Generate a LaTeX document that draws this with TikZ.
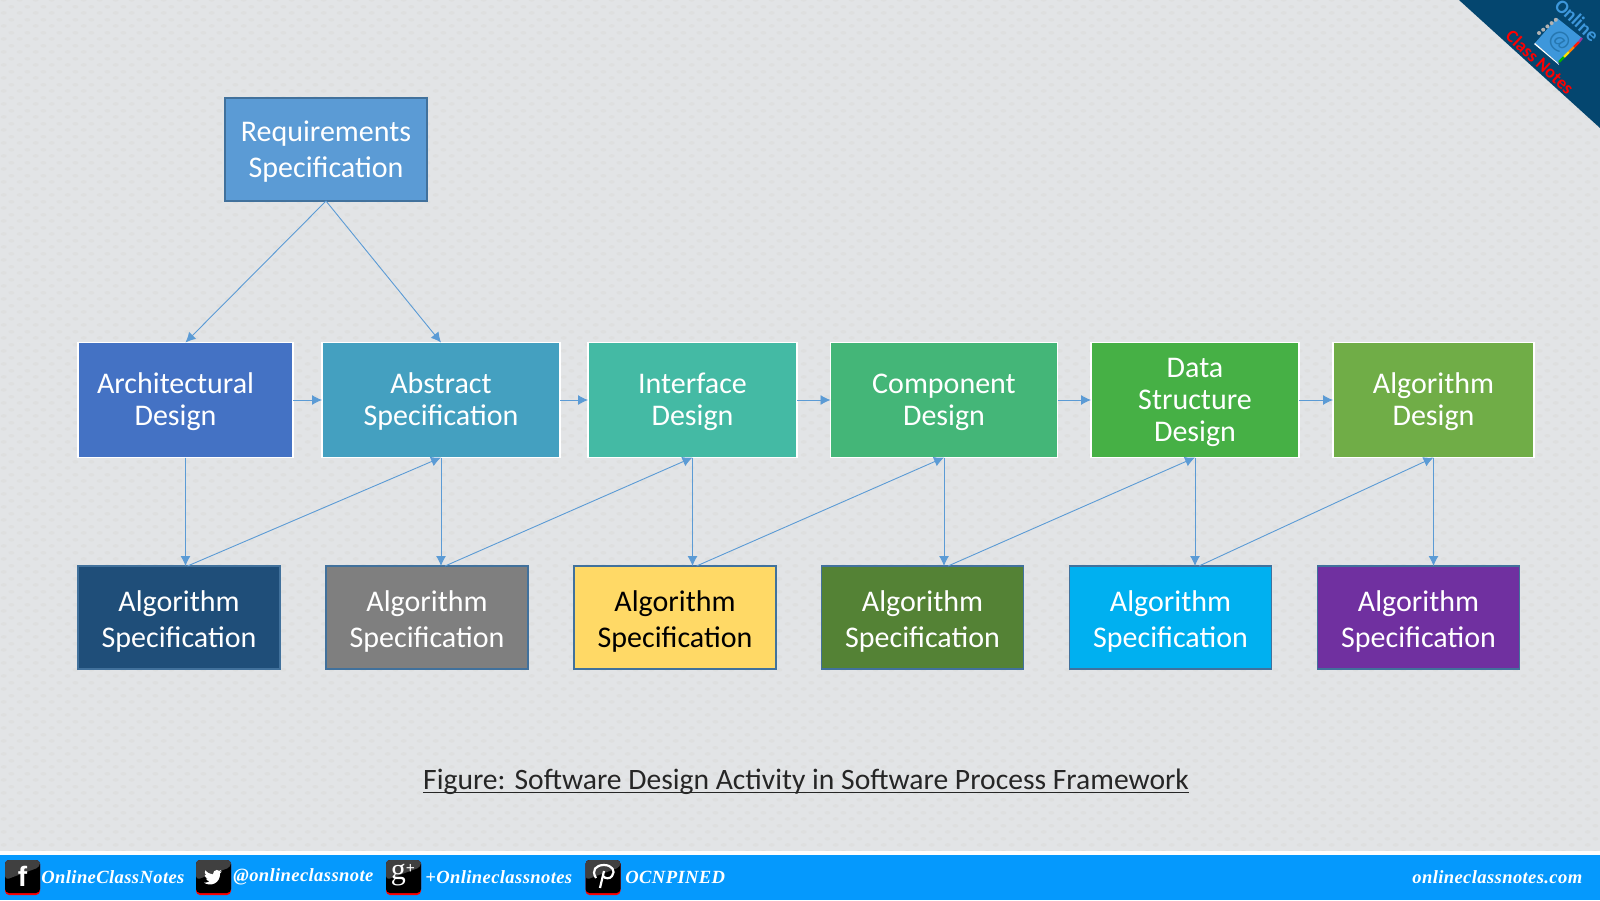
\documentclass[tikz,border=0pt]{standalone}
\usepackage{fontspec}
\usetikzlibrary{arrows.meta,patterns}
\setmainfont{Carlito}
\newfontfamily\footfont[LetterSpace=2]{Liberation Serif}
\newfontfamily\iconfont{Liberation Sans}
\newfontfamily\iconserif{Liberation Serif}
\newcommand{\capgap}[1]{\rule{0pt}{#1pt}}
\definecolor{pagebg}{HTML}{E2E4E6}
\definecolor{pagedot}{HTML}{DEDFDF}
\definecolor{footblue}{HTML}{0599FD}
\definecolor{cornerblue}{HTML}{04466F}
\definecolor{linkblue}{HTML}{5B9BD5}
\definecolor{edgeblue}{HTML}{41719C}
\definecolor{bookblue}{HTML}{3D97DB}
\pgfdeclarepatternformonly{pagedots}{\pgfqpoint{0pt}{0pt}}{\pgfqpoint{7.85pt}{6.3pt}}{\pgfqpoint{7.85pt}{6.3pt}}{
  \pgfpathellipse{\pgfqpoint{1.9pt}{1.6pt}}{\pgfqpoint{1.5pt}{0pt}}{\pgfqpoint{0pt}{.9pt}}
  \pgfpathellipse{\pgfqpoint{5.8pt}{4.75pt}}{\pgfqpoint{1.5pt}{0pt}}{\pgfqpoint{0pt}{.9pt}}
  \pgfusepath{fill}
}
\tikzset{
  flowbox/.style={draw,rectangle,outer sep=0pt,inner sep=0pt,align=center,text=white},
  reqbox/.style={flowbox,draw=edgeblue,line width=.8pt,fill=linkblue,minimum width=101pt,minimum height=51.5pt,
    font=\fontsize{15}{18}\selectfont},
  designbox/.style={flowbox,draw=white,line width=.9pt,minimum height=57.5pt,
    font=\fontsize{15}{16.1}\selectfont},
  specbox/.style={flowbox,draw=edgeblue,line width=.8pt,minimum width=101pt,minimum height=51.5pt,
    font=\fontsize{15}{18}\selectfont},
  link/.style={draw=linkblue,line width=.45pt,-{Latex[length=5pt,width=5pt]}},
  foottext/.style={anchor=west,text=white,inner sep=0pt,font=\footfont\fontsize{9.3}{10}\selectfont\bfseries\itshape},
  socialicon/.pic={
    \fill[red,rounded corners=2pt] (0,0) rectangle (35,35);
    \fill[black,rounded corners=2pt] (0,0) rectangle (35,33);
    \fill[black!75,rounded corners=2pt] (0,0) -- (35,0) -- (35,7) -- (0,20) -- cycle;
  }
}
\begin{document}
\begin{tikzpicture}[x=0.5pt,y=-0.5pt]
\useasboundingbox (0,0) rectangle (1600,900);
\fill[pagebg] (0,0) rectangle (1600,900);
\fill[pattern=pagedots,pattern color=pagedot] (0,0) rectangle (1600,900);

% corner
\fill[cornerblue] (1459,0) -- (1600,128) -- (1600,0) -- cycle;
\fill[bookblue] (1557,18) -- (1582,38) -- (1558,63) -- (1535,43) -- cycle;
\fill[white] (1535,43) -- (1558,63) -- (1559,65) -- (1534,44) -- cycle;
\draw[line width=1.1pt,green!70!black] (1559,62) -- (1564,57);
\draw[line width=1.1pt,yellow!85!orange] (1564,57) -- (1569,52);
\draw[line width=1.1pt,orange] (1569,52) -- (1574,47);
\draw[line width=1.1pt,red!80!orange] (1574,47) -- (1579,42);
\draw[line width=1.1pt,violet!80] (1579,42) -- (1582,38);
\foreach \d in {0,...,4} {
  \fill[gray!60] ({1539+4.2*\d},{33-3.3*\d}) circle (2);
}
\node[rotate=-43,text=bookblue!60!cornerblue,inner sep=0pt,font=\fontsize{13}{14}\selectfont] (atsign) at (1560,41) {@};
\node[rotate=-43,text=bookblue,inner sep=0pt,font=\fontsize{9.5}{12}\selectfont\bfseries] (online) at (1577,20) {Online};
\node[rotate=-43,text=red,inner sep=0pt,font=\fontsize{9}{12}\selectfont\bfseries] (classnotes) at (1540,62) {Class Notes};

% boxes
\node[reqbox] (req) at (326,149.5) {\capgap{12.5}Requirements\\Specification};

\node[designbox,fill={rgb,255:red,68;green,114;blue,196},minimum width=107.5pt] (arch) at (185.5,400) {\capgap{12}Architectural\hspace*{10pt}\\Design\hspace*{10pt}};
\node[designbox,fill={rgb,255:red,68;green,160;blue,192},minimum width=119pt] (abstract) at (441,400) {\capgap{12}Abstract\\Specification};
\node[designbox,fill={rgb,255:red,68;green,186;blue,164},minimum width=104.5pt] (iface) at (692.5,400) {\capgap{12}Interface\\Design};
\node[designbox,fill={rgb,255:red,68;green,182;blue,120},minimum width=113.5pt] (comp) at (944,400) {\capgap{12}Component\\Design};
\node[designbox,fill={rgb,255:red,70;green,176;blue,69},minimum width=104pt] (data) at (1195,400) {\capgap{12}Data\\Structure\\Design};
\node[designbox,fill={rgb,255:red,112;green,173;blue,71},minimum width=100.5pt] (algo) at (1433.5,400) {\capgap{12}Algorithm\\Design};

\node[specbox,fill={rgb,255:red,31;green,78;blue,121}] (spec1) at (179,617.5) {\capgap{14.5}Algorithm\\Specification};
\node[specbox,fill={rgb,255:red,127;green,127;blue,127}] (spec2) at (427,617.5) {\capgap{14.5}Algorithm\\Specification};
\node[specbox,fill={rgb,255:red,255;green,217;blue,102},text=black] (spec3) at (675,617.5) {\capgap{14.5}Algorithm\\Specification};
\node[specbox,fill={rgb,255:red,84;green,130;blue,53}] (spec4) at (922.5,617.5) {\capgap{14.5}Algorithm\\Specification};
\node[specbox,fill={rgb,255:red,0;green,176;blue,240}] (spec5) at (1170.5,617.5) {\capgap{14.5}Algorithm\\Specification};
\node[specbox,fill={rgb,255:red,112;green,48;blue,160}] (spec6) at (1418.5,617.5) {\capgap{14.5}Algorithm\\Specification};

% connectors
\draw[link] (req.south) -- (arch.north);
\draw[link] (req.south) -- (abstract.north);
\draw[link] (arch) -- (abstract);
\draw[link] (abstract) -- (iface);
\draw[link] (iface) -- (comp);
\draw[link] (comp) -- (data);
\draw[link] (data) -- (algo);

\draw[link] (arch.south) -- (arch.south |- spec1.north);
\draw[link] (abstract.south) -- (abstract.south |- spec2.north);
\draw[link] (iface.south) -- (iface.south |- spec3.north);
\draw[link] (comp.south) -- (comp.south |- spec4.north);
\draw[link] (data.south) -- (data.south |- spec5.north);
\draw[link] (algo.south) -- (algo.south |- spec6.north);

\draw[link] ([xshift=1pt]arch.south |- spec1.north) -- (abstract.south);
\draw[link] ([xshift=2pt]abstract.south |- spec2.north) -- (iface.south);
\draw[link] ([xshift=2pt]iface.south |- spec3.north) -- (comp.south);
\draw[link] ([xshift=2pt]comp.south |- spec4.north) -- (data.south);
\draw[link] ([xshift=2pt]data.south |- spec5.north) -- (algo.south);

% caption
\node[text=black!85,inner sep=0pt,font=\fontsize{14.8}{16}\selectfont] (caption) at (806,782) {Figure: Software Design Activity in Software Process Framework};
\draw[black!85,line width=.4pt] ([yshift=-1.5pt]caption.base west) -- ([yshift=-1.5pt]caption.base east);

% footer
\fill[white!92!pagebg] (0,851) rectangle (1600,855);
\fill[footblue] (0,855) rectangle (1600,900);
\pic at (5,860) {socialicon};
\pic at (196,860) {socialicon};
\pic at (386,860) {socialicon};
\pic at (585.5,860) {socialicon};
\node[text=white,inner sep=0pt,font=\iconfont\fontsize{14}{14}\selectfont\bfseries] (ficon) at (22.5,876.5) {f};
\begin{scope}[shift={(204,868)},scale=.75]
\fill[white] (24,4.6) -- (21.1,5.3) -- (23.3,2.6) -- (20.2,3.8)
  .. controls (19,2.2) and (15,2) .. (13.5,4.2) .. controls (11.8,5.5) and (11.6,7) .. (11.8,8.5)
  .. controls (7.7,8.1) and (4,6.1) .. (1.6,3.2) .. controls (.5,5) and (1,8.5) .. (3.2,9.7) -- (0.9,9.1)
  .. controls (1,11.5) and (2.5,13.4) .. (4.9,14) -- (2.7,14.1) .. controls (3.3,16) and (5,17.4) .. (7.3,17.5)
  .. controls (5.4,19.1) and (2.8,19.8) .. (0,19.5) .. controls (8,25) and (21.5,21.5) .. (21.5,7) -- cycle;
\end{scope}
\node[text=white,inner sep=0pt,font=\iconserif\fontsize{15}{15}\selectfont] (gicon) at (403,875) {g\raisebox{3pt}{\fontsize{8}{8}\selectfont\bfseries +}};
\draw[white,line width=1.1pt] (596,878) .. controls (591,870) and (596,865) .. (604,865) .. controls (612,865) and (616,871) .. (612,876) .. controls (610,879) and (605,879) .. (603,876);
\draw[white,line width=1.1pt] (604,871) -- (600,888);

\node[foottext] (fb) at (41,877) {OnlineClassNotes};
\node[foottext] (tw) at (233,877) {@onlineclassnote};
\node[foottext] (gp) at (425,877) {+Onlineclassnotes};
\node[foottext] (pin) at (625,877) {OCNPINED};
\node[foottext] (site) at (1412,877) {onlineclassnotes.com};
\end{tikzpicture}
\end{document}
